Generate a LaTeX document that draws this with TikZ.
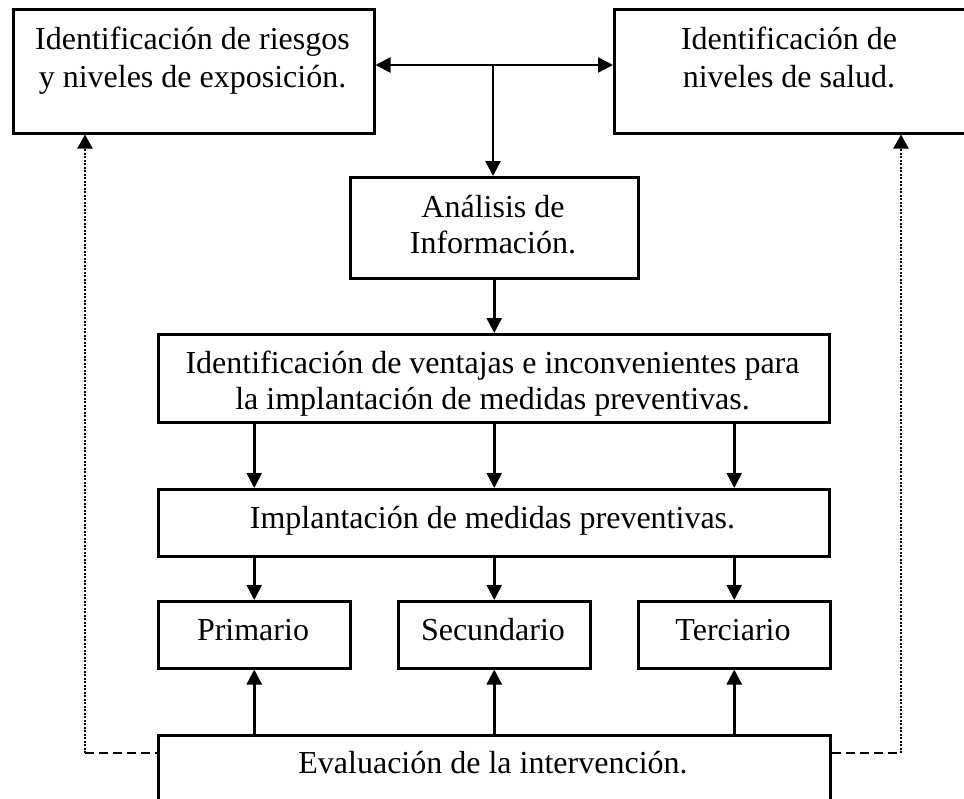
\documentclass[tikz,border=0pt]{standalone}
\usepackage{fontspec}
\setmainfont{Liberation Serif}
\usetikzlibrary{arrows.meta}
\tikzset{
  box/.style={draw, line width=2.5pt, rectangle, inner sep=0pt},
  txt/.style={inner sep=0pt, anchor=base, font=\fontsize{32}{38}\selectfont},
  arr/.style={line width=2.5pt, -{Triangle[length=15pt,width=15pt]}},
  darr/.style={line width=2.5pt, {Triangle[length=15pt,width=15pt]}-{Triangle[length=15pt,width=15pt]}},
  dotarr/.style={line width=2.2pt, dash pattern=on 2pt off 1.5pt, -{Triangle[length=14pt,width=15pt]}},
  dashln/.style={line width=2.5pt, dash pattern=on 9pt off 5pt},
}
\begin{document}
\begin{tikzpicture}[x=1pt,y=-1pt]
\useasboundingbox (0,0) rectangle (964,798);
\clip (0,0) rectangle (964,798);
\fill[white] (0,0) rectangle (964,798);
% boxes (corner coordinates)
\node[box, minimum width=361pt, minimum height=124pt, anchor=north west] (A) at (12,8) {};
\node[box, minimum width=352pt, minimum height=124pt, anchor=north west] (B) at (613,8) {};
\node[box, minimum width=288pt, minimum height=101pt, anchor=north west] (C) at (349,176) {};
\node[box, minimum width=671pt, minimum height=88pt, anchor=north west] (D) at (157,333) {};
\node[box, minimum width=671pt, minimum height=67pt, anchor=north west] (E) at (157,488) {};
\node[box, minimum width=192pt, minimum height=67pt, anchor=north west] (F1) at (157,600) {};
\node[box, minimum width=192pt, minimum height=67pt, anchor=north west] (F2) at (397,600) {};
\node[box, minimum width=192pt, minimum height=67pt, anchor=north west] (F3) at (637,600) {};
\node[box, minimum width=672pt, minimum height=90pt, anchor=north west] (G) at (157,734) {};
% texts
\node[txt] (A1) at (192.5,49) {Identificación de riesgos};
\node[txt] (A2) at (192.5,87) {y niveles de exposición.};
\node[txt] (B1) at (789,49) {Identificación de};
\node[txt] (B2) at (789,87) {niveles de salud.};
\node[txt] (C1) at (493,217) {Análisis de};
\node[txt] (C2) at (493,253) {Información.};
\node[txt] (D1) at (492.5,373) {Identificación de ventajas e inconvenientes para};
\node[txt] (D2) at (492.5,409) {la implantación de medidas preventivas.};
\node[txt] (E1) at (492.5,528) {Implantación de medidas preventivas.};
\node[txt] (F1t) at (253,640) {Primario};
\node[txt] (F2t) at (493,640) {Secundario};
\node[txt] (F3t) at (733,640) {Terciario};
\node[txt] (G1) at (493,773) {Evaluación de la intervención.};
% connectors
\coordinate (J) at (493,65);
\draw[darr] (J -| A.east) -- (J -| B.west);
\draw[arr] (J) -- (J |- C.north);
\draw[arr] (C.south) -- (C.south |- D.north);
\foreach \f in {F1, F2, F3}{
  \draw[arr] (\f.north |- D.south) -- (\f.north |- E.north);
  \draw[arr] (\f.north |- E.south) -- (\f.north);
  \draw[arr] (\f.south |- G.north) -- (\f.south);
}
\coordinate (L) at (85,753);
\coordinate (R) at (901,753);
\draw[dotarr] (L) -- (L |- A.south);
\draw[dotarr] (R) -- (R |- B.south);
\draw[dashln] (L) -- (L -| G.west);
\draw[dashln] (G.east |- R) -- (R);
\end{tikzpicture}
\end{document}
